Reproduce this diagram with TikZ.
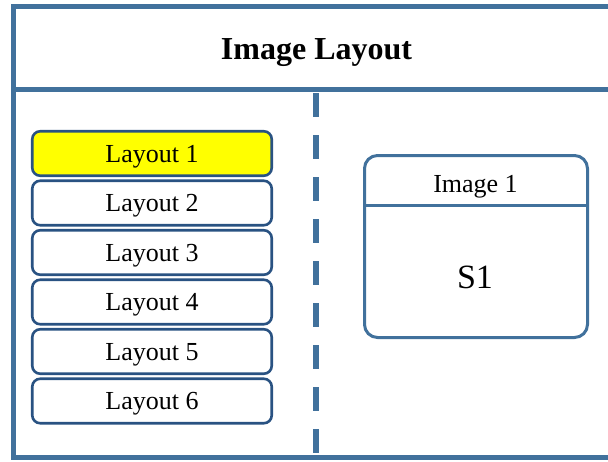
\documentclass[tikz,border=0pt]{standalone}
\usepackage{fontspec}
\setmainfont{Liberation Serif}
\definecolor{frameblue}{RGB}{65,113,156}
\definecolor{boxblue}{RGB}{41,82,130}
\definecolor{selyellow}{RGB}{255,255,0}
\begin{document}
\begin{tikzpicture}[x=1pt,y=-1pt,
  frameline/.style={draw=frameblue, line width=5.5pt},
  separator/.style={draw=frameblue, line width=6pt, dash pattern=on 24pt off 18pt},
  layoutbox/.style={draw=boxblue, line width=2.6pt, rounded corners=8pt, fill=white,
    minimum width=239.5pt, minimum height=44.5pt, inner sep=0pt,
    text height=17pt, text depth=0pt, font=\fontsize{26}{30}\selectfont},
  selected/.style={fill=selyellow},
  imagebox/.style={draw=frameblue, line width=3pt, rounded corners=13pt,
    minimum width=223pt, minimum height=182pt, inner sep=0pt},
  imagerule/.style={draw=frameblue, line width=3pt},
  titletext/.style={font=\bfseries\fontsize{32}{36}\selectfont, anchor=base, inner sep=0pt},
  captext/.style={font=\fontsize{26}{30}\selectfont, anchor=base, inner sep=0pt},
  bigtext/.style={font=\fontsize{34}{38}\selectfont, anchor=base, inner sep=0pt}]
\useasboundingbox (0,0) rectangle (608,461);
\clip (0,0) rectangle (608,461);
\fill[white] (0,0) rectangle (608,461);

% outer frame and header band
\draw[frameline] (13.5,6.5) rectangle (620,457.5);
\coordinate (hdl) at (13.5,89.5);
\coordinate (hdr) at (620,89.5);
\draw[frameline] (hdl) -- (hdr);
\node[titletext] (title) at (316.5,59) {Image Layout};

% dashed separator between the list and the preview
\coordinate (septop) at (316,93);
\coordinate (sepbot) at (316,455);
\draw[separator] (septop) -- (sepbot);

% layout list
\node[layoutbox, selected] (l1) at (152,153.5) {Layout 1};
\node[layoutbox] (l2) at (152,203) {Layout 2};
\node[layoutbox] (l3) at (152,252.5) {Layout 3};
\node[layoutbox] (l4) at (152,302) {Layout 4};
\node[layoutbox] (l5) at (152,351.5) {Layout 5};
\node[layoutbox] (l6) at (152,401) {Layout 6};

% image preview
\node[imagebox] (img) at (476,246.5) {};
\coordinate (rulel) at (img.west |- 0,205);
\coordinate (ruler) at (img.east |- 0,205);
\draw[imagerule] (rulel) -- (ruler);
\node[captext] (imgtitle) at (475.5,192) {Image 1};
\node[bigtext] (s1) at (475,288) {S1};
\end{tikzpicture}
\end{document}
